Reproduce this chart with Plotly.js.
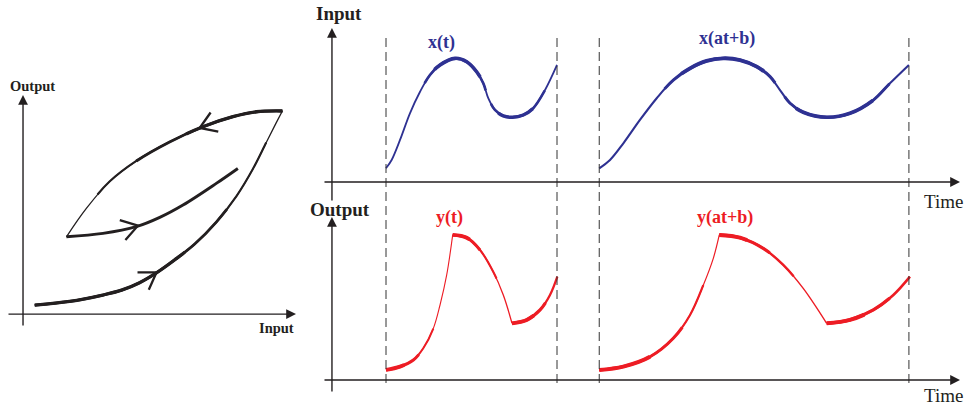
<!DOCTYPE html>
<html><head><meta charset="utf-8">
<script src="https://cdn.plot.ly/plotly-3.0.1.min.js"></script>
<style>html,body{margin:0;padding:0;background:#fff}</style>
</head><body><div id="chart" style="width:967px;height:406px"></div>
<script>
// ---------- DATA ----------
// Hysteresis loop (Input vs Output)
const lowerX = [0.43,1.71,2.92,3.61,4.27,4.90,5.55,6.29,7.08,7.82,8.42,8.91,9.25,9.50];
const lowerY = [0.35,0.49,0.74,0.93,1.22,1.61,2.10,2.72,3.57,4.58,5.63,6.66,7.37,7.88];
const upperX = [9.50,8.55,7.69,6.59,5.37,4.15,3.17,2.32,1.59];
const upperY = [7.88,7.85,7.66,7.27,6.68,5.94,5.14,4.10,3.00];
const innerX = [1.59,2.93,4.15,5.01,5.86,7.08,7.87];
const innerY = [3.00,3.13,3.39,3.75,4.23,5.07,5.65];
const arrowCurve = ['lower','inner','upper'];
const arrowX = [4.89,4.21,6.47];
const arrowY = [1.62,3.43,7.22];
// Input signals
const xtT  = [0,0.33,0.82,1.40,1.99,2.57,3.16,4.04,4.72,5.30,5.69,5.98,6.37,6.86,7.39,8.03,8.61,9.30,10.0];
const xtV  = [0.89,1.43,2.73,4.46,5.86,6.95,7.60,8.03,7.81,7.16,6.41,5.44,4.68,4.29,4.20,4.35,4.79,5.97,7.60];
const xabT = [12.47,13.10,13.88,14.85,15.83,16.80,17.78,18.75,19.72,20.70,21.68,22.46,23.04,23.63,24.40,25.77,27.13,28.50,29.47,30.58];
const xabV = [0.89,1.43,2.51,4.03,5.44,6.62,7.38,7.86,8.03,7.92,7.49,6.84,5.97,5.11,4.53,4.20,4.46,5.32,6.41,7.60];
// Output signals
const ytT  = [0,0.82,1.60,2.18,2.77,3.16,3.55,3.90,4.72,5.50,6.27,6.86,7.37,8.23,9.01,9.59,10.02];
const ytV  = [0.65,0.87,1.30,2.06,3.35,4.87,6.82,9.42,9.24,8.44,7.03,5.52,3.68,3.90,4.55,5.52,6.71];
const yabT = [12.47,13.88,15.44,16.80,17.78,18.56,19.14,19.49,20.70,22.06,23.23,24.40,25.77,27.13,28.50,29.67,30.64];
const yabV = [0.65,0.87,1.51,2.71,4.22,6.17,7.90,9.42,9.24,8.55,7.47,5.95,3.68,3.90,4.55,5.52,6.71];
// Interval boundaries (dashed lines)
const intervalT = [0,10,12.47,30.58];
// Labels
const curveLabels = ['x(t)','x(at+b)','y(t)','y(at+b)'];
const axisLabels = ['Output','Input','Input','Output','Time','Time'];

// ---------- STYLE / LAYOUT ----------
const W=967,H=406;
const INK='#231f20', BLUE='#2e3192', RED='#ed1c24';
const SERIF='"Liberation Serif","DejaVu Serif",serif';
const hid={visible:false,fixedrange:true};
const layout={
  width:W,height:H,margin:{l:0,r:0,t:0,b:0},paper_bgcolor:'#fff',plot_bgcolor:'rgba(0,0,0,0)',
  showlegend:false,hovermode:false,
  xaxis:Object.assign({domain:[7/W,296/W],range:[-0.587,10],anchor:'y'},hid),
  yaxis:Object.assign({domain:[1-327/H,1-95/H],range:[-0.5,8.5],anchor:'x'},hid),
  xaxis2:Object.assign({domain:[323/W,960/W],range:[-3.684,33.567],anchor:'y2'},hid),
  yaxis2:Object.assign({domain:[1-202/H,1-28/H],range:[-1.3,10],anchor:'x2'},hid),
  xaxis3:Object.assign({domain:[323/W,960/W],range:[-3.684,33.567],anchor:'y3'},hid),
  yaxis3:Object.assign({domain:[1-393/H,1-217/H],range:[-0.844,10.584],anchor:'x3'},hid),
  shapes:[],annotations:[]
};
function scale(ax,len){const d=layout[ax].domain,r=layout[ax].range;return len*(d[1]-d[0])/(r[1]-r[0]);}
const SC={x:scale('xaxis',W),y:scale('yaxis',H),x2:scale('xaxis2',W),y2:scale('yaxis2',H),x3:scale('xaxis3',W),y3:scale('yaxis3',H)};
const traces=[];
// Draw a smooth piece (points i0..i1) with a base width, plus thicker overlays
// restricted by a dash pattern along the path (arc length estimated from the polyline).
function piece(x,y,i0,i1,base,overlays,color,xa,ya){
  const px=x.slice(i0,i1+1), py=y.slice(i0,i1+1);
  const sx=SC[xa], sy=SC[ya];
  const cum=[0]; for(let j=1;j<px.length;j++) cum.push(cum[j-1]+Math.hypot((px[j]-px[j-1])*sx,(py[j]-py[j-1])*sy));
  const at=f=>{f-=i0; if(f<=0) return 0; if(f>=px.length-1) return cum[cum.length-1]+40; const k=Math.floor(f); return cum[k]+(cum[k+1]-cum[k])*(f-k);};
  const mk=(w,dash)=>({type:'scatter',mode:'lines',x:px,y:py,xaxis:xa,yaxis:ya,
    line:Object.assign({color:color,width:w,shape:'spline',smoothing:1},dash?{dash:dash}:{}),hoverinfo:'skip',showlegend:false});
  traces.push(mk(base));
  overlays.forEach(([a,b,w])=>{const s=at(a),e=at(b);
    traces.push(mk(w,'0px,'+s.toFixed(1)+'px,'+Math.max(0.5,e-s).toFixed(1)+'px,5000px'));});
}
// loop curves
piece(lowerX,lowerY,0,13,1.3,[[0,11,2.1],[0,8.5,2.8],[0,6.5,3.3]],INK,'x','y');
piece(upperX,upperY,0,8,1.3,[[0,6.5,2.1],[0,5,2.8],[0,3.5,3.3]],INK,'x','y');
piece(innerX,innerY,0,6,2.9,[],INK,'x','y');
// chevrons on loop
const curves={lower:[lowerX,lowerY],inner:[innerX,innerY],upper:[upperX,upperY]};
arrowCurve.forEach((c,i)=>{
  const sx=SC.x, sy=SC.y;
  const [cx,cy]=curves[c]; const tx=arrowX[i], ty=arrowY[i];
  let k=0,best=1e9; cx.forEach((v,j)=>{const d=Math.hypot((v-tx)*sx,(cy[j]-ty)*sy); if(d<best){best=d;k=j;}});
  const a=Math.max(0,k-1), b=Math.min(cx.length-1,k+1);
  let dx=(cx[b]-cx[a])*sx, dy=(cy[b]-cy[a])*sy; const n=Math.hypot(dx,dy); dx/=n; dy/=n;
  const L=19, th=33*Math.PI/180;
  const wing=s=>{const bx=-dx,by=-dy; const rx=bx*Math.cos(s*th)-by*Math.sin(s*th), ry=bx*Math.sin(s*th)+by*Math.cos(s*th); return [tx+L*rx/sx, ty+L*ry/sy];};
  const w1=wing(1), w2=wing(-1);
  traces.push({type:'scatter',mode:'lines',x:[w1[0],tx,w2[0]],y:[w1[1],ty,w2[1]],xaxis:'x',yaxis:'y',
    line:{color:INK,width:2.3},hoverinfo:'skip',showlegend:false});
});
// input signals
piece(xtT,xtV,0,18,1.8,[[4.5,10.5,2.7],[5.5,9.5,3.6],[11.5,17,2.6],[12.5,16,3.4]],BLUE,'x2','y2');
piece(xabT,xabV,0,19,2.1,[[4.5,11.5,3],[5.5,10.5,3.9],[12.5,18,2.9],[13.5,17,3.6]],BLUE,'x2','y2');
// output signals (corners split into separate pieces)
piece(ytT,ytV,0,7,1.1,[[0,4,2],[0,2.5,3],[0,1.3,3.8]],RED,'x3','y3');
piece(ytT,ytV,7,12,1.3,[[7,10.3,2.1],[7,9,3],[7,8.2,3.8]],RED,'x3','y3');
piece(ytT,ytV,12,16,2.3,[[12,14.5,3.1],[12,13.5,3.8]],RED,'x3','y3');
piece(yabT,yabV,0,7,1.2,[[0,5,2.2],[0,3.5,3.1],[0,2,4]],RED,'x3','y3');
piece(yabT,yabV,7,12,1.4,[[7,10.5,2.4],[7,9.3,3.2],[7,8.3,4]],RED,'x3','y3');
piece(yabT,yabV,12,16,2.6,[[12,14.8,3.3],[12,13.6,4]],RED,'x3','y3');

// dashed interval lines
intervalT.forEach(t=>layout.shapes.push({type:'line',xref:'x2',yref:'paper',x0:t,x1:t,y0:1-383/H,y1:1-34/H,
  line:{color:'#333333',width:1,dash:'9px,5px'}}));

// axis arrows
function axArrow(xr,yr,x0,y0,x1,y1){layout.annotations.push({xref:xr,yref:yr,axref:xr,ayref:yr,x:x1,y:y1,ax:x0,ay:y0,
  text:'',showarrow:true,arrowhead:2,arrowsize:1.4,arrowwidth:1.4,arrowcolor:INK,standoff:0});}
axArrow('x','y',-0.587,0,10,0);
axArrow('x','y',0,-0.5,0,8.5);
axArrow('x2','y2',-3.684,0,33.567,0);
axArrow('x2','y2',-3.16,-1.3,-3.16,10);
axArrow('x3','y3',-3.684,0,33.567,0);
axArrow('x3','y3',-3.16,-0.844,-3.16,10.584);

// axis labels
const axPos=[[8/W,1-86/H,'left',14.5,true],[296/W,1-328/H,'right',14.5,true],[339/W,1-13/H,'center',19,true],
  [339.5/W,1-209/H,'center',19,true],[943.5/W,1-201/H,'center',19,false],[943.5/W,1-395.5/H,'center',19,false]];
axisLabels.forEach((t,i)=>{const p=axPos[i];layout.annotations.push({xref:'paper',yref:'paper',x:p[0],y:p[1],xanchor:p[2],yanchor:'middle',
  text:p[4]?'<b>'+t+'</b>':t,showarrow:false,font:{family:SERIF,size:p[3],color:INK}});});
// curve labels
const clPos=[['x2','y2',3.27,9.03,BLUE],['x2','y2',19.94,9.29,BLUE],['x3','y3',3.74,10.58,RED],['x3','y3',19.82,10.52,RED]];
curveLabels.forEach((t,i)=>{const p=clPos[i];layout.annotations.push({xref:p[0],yref:p[1],x:p[2],y:p[3],xanchor:'center',yanchor:'middle',
  text:'<b>'+t+'</b>',showarrow:false,font:{family:SERIF,size:18,color:p[4]}});});

Plotly.newPlot('chart',traces,layout,{staticPlot:true,displayModeBar:false});
</script></body></html>
